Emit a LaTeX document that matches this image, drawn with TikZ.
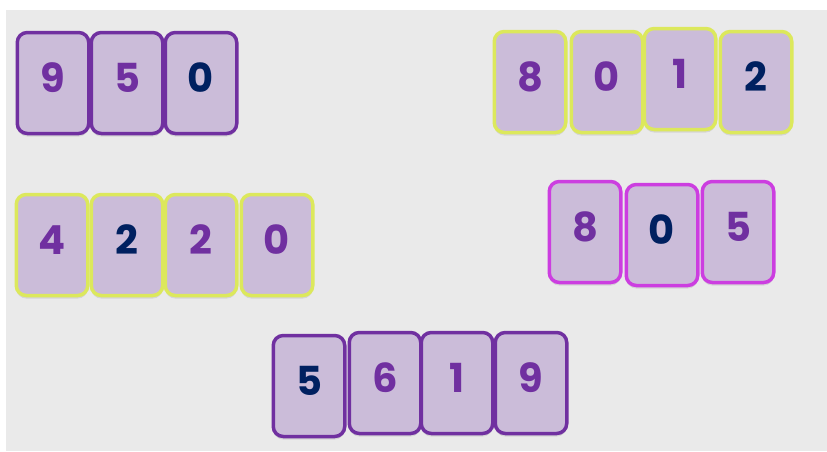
\documentclass[tikz,border=0pt]{standalone}
\usepackage{fontspec}
\setmainfont{Poppins}
\usetikzlibrary{shadows}

\definecolor{bggrey}{HTML}{EAEAEA}
\definecolor{cardfill}{HTML}{CBBCD9}
\definecolor{plum}{HTML}{7030A0}
\definecolor{navy}{HTML}{002060}
\definecolor{lime}{HTML}{DCE85C}
\definecolor{pinkedge}{HTML}{CC3EE0}

\tikzset{
  card/.style={rectangle, rounded corners=10pt, line width=3.5pt, fill=cardfill,
    minimum width=71.5pt, minimum height=101pt, text height=31pt, text depth=12pt,
    font=\fontsize{40}{40}\selectfont\bfseries,
    drop shadow={shadow xshift=0pt, shadow yshift=-3pt, fill=black!22, opacity=.6}},
  plumcard/.style={card, draw=plum},
  limecard/.style={card, draw=lime},
  pinkcard/.style={card, draw=pinkedge}
}

\begin{document}
\begin{tikzpicture}[x=1pt, y=-1pt]
  \useasboundingbox (0,0) rectangle (827,451);
  \fill[bggrey] (6,10) rectangle (827,451);
  % top left: 950
  \foreach \x/\d/\c [count=\i] in {53/9/plum, 127/5/plum, 201/0/navy}
    \node[plumcard, text=\c] (a\i) at (\x,83) {\d};
  % top right: 8012
  \foreach \x/\y/\d/\c [count=\i] in {530/82/8/plum, 607/82/0/plum, 680/79/1/plum, 756/82/2/navy}
    \node[limecard, text=\c] (b\i) at (\x,\y) {\d};
  % middle left: 4220
  \foreach \x/\d/\c [count=\i] in {52/4/plum, 127/2/navy, 201/2/plum, 277/0/plum}
    \node[limecard, text=\c] (c\i) at (\x,245) {\d};
  % middle right: 805
  \foreach \x/\y/\d/\c [count=\i] in {585/232/8/plum, 662/235/0/navy, 738/232/5/plum}
    \node[pinkcard, text=\c] (d\i) at (\x,\y) {\d};
  % bottom: 5619
  \foreach \x/\y/\d/\c [count=\i] in {309/386/5/navy, 385/383/6/plum, 457/383/1/plum, 531/383/9/plum}
    \node[plumcard, text=\c] (e\i) at (\x,\y) {\d};
\end{tikzpicture}
\end{document}
